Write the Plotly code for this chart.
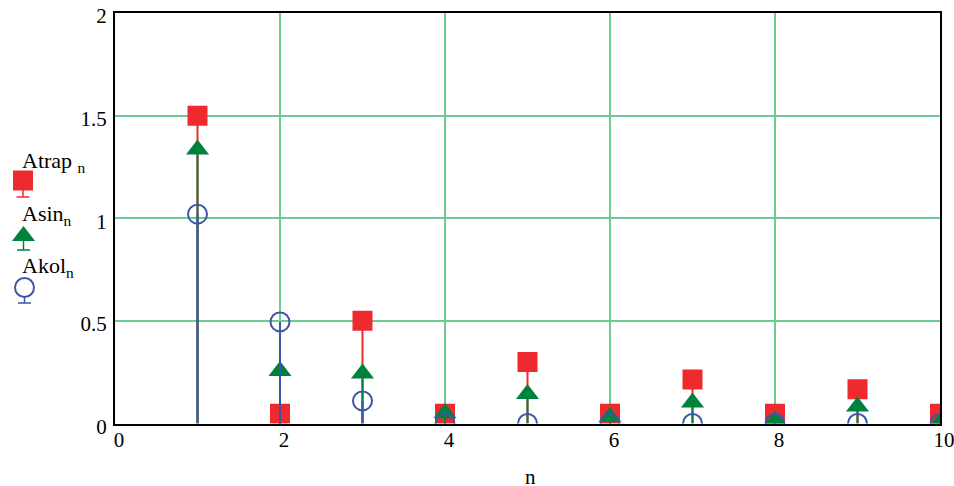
import plotly.graph_objects as go

# ---- data ----
n_vals = [1, 2, 3, 4, 5, 6, 7, 8, 9, 10]
atrap = [1.5, 0.048, 0.5, 0.048, 0.3, 0.048, 0.214, 0.048, 0.167, 0.048]
asin = [1.335, 0.256, 0.244, 0.05, 0.144, 0.032, 0.102, 0.014, 0.083, 0.005]
akol = [1.02, 0.495, 0.11, 0.0, 0.0, 0.0, 0.0, 0.0, 0.0, 0.0]
x_ticks = [0, 2, 4, 6, 8, 10]
y_ticks = [0, 0.5, 1, 1.5, 2]
legend_names = ["Atrap", "Asin", "Akol"]

RED = "#ee2a2f"
GREEN = "#00823f"
BLUE = "#3b56a8"
GRID = "#6ccb93"
FONT = "Liberation Serif"

W, H = 954, 486
L, R, T, B = 115, 940, 13, 423.5

fig = go.Figure()


def stems(xs, ys):
    sx, sy = [], []
    for x, y in zip(xs, ys):
        sx += [x, x, None]
        sy += [0, y, None]
    return sx, sy


series = [
    (atrap, RED, dict(symbol="square", size=20, color=RED, line=dict(width=0))),
    (asin, GREEN, dict(symbol="triangle-up", size=20, color=GREEN, line=dict(width=0))),
    (akol, BLUE, dict(symbol="circle-open", size=19, color=BLUE, line=dict(width=2, color=BLUE))),
]

for vals, col, mk in series:
    sx, sy = stems(n_vals, vals)
    fig.add_trace(go.Scatter(x=sx, y=sy, mode="lines", line=dict(color=col, width=2),
                             hoverinfo="skip", showlegend=False))
    fig.add_trace(go.Scatter(x=n_vals, y=vals, mode="markers", marker=mk,
                             showlegend=False, cliponaxis=True))

# ---- legend glyphs (pixel coordinate overlay axes) ----
leg_marker_y = [180.5, 236, 287.5]
leg_marker_x = [23, 23.5, 24.5]
leg_stem_end = [197, 250, 303]
leg_stem_start = [190, 241, 297]
leg_text_y = [162, 215, 267]
for i, (vals, col, mk) in enumerate(series):
    fig.add_trace(go.Scatter(x=[leg_marker_x[i]], y=[leg_marker_y[i]], mode="markers",
                             marker=mk, xaxis="x2", yaxis="y2", showlegend=False,
                             hoverinfo="skip", cliponaxis=False))
    fig.add_shape(type="line", xref="x2", yref="y2",
                  x0=leg_marker_x[i], x1=leg_marker_x[i],
                  y0=leg_stem_start[i], y1=leg_stem_end[i],
                  line=dict(color=col, width=1.5))
    fig.add_shape(type="line", xref="x2", yref="y2",
                  x0=leg_marker_x[i] - 6.5, x1=leg_marker_x[i] + 6.5,
                  y0=leg_stem_end[i], y1=leg_stem_end[i],
                  line=dict(color=col, width=1.5))
    sep = " " if i == 0 else ""
    fig.add_annotation(x=20, y=leg_text_y[i], xref="x2", yref="y2",
                       text=legend_names[i] + sep + "<sub>n</sub>", showarrow=False,
                       xanchor="left", yanchor="middle",
                       font=dict(family=FONT, size=22, color="black"))

fig.add_annotation(x=530, y=477, xref="x2", yref="y2", text="n", showarrow=False,
                   xanchor="center", yanchor="middle",
                   font=dict(family=FONT, size=21, color="black"))

fig.update_layout(
    width=W, height=H, autosize=False,
    margin=dict(l=0, r=0, t=0, b=0, pad=0),
    paper_bgcolor="white", plot_bgcolor="rgba(0,0,0,0)",
    font=dict(family=FONT, size=21, color="black"),
    showlegend=False,
    xaxis=dict(domain=[L / W, R / W], range=[0, 10], tickvals=x_ticks,
               ticktext=[str(v) for v in x_ticks],
               showgrid=True, gridcolor=GRID, gridwidth=1.5, zeroline=False,
               showline=True, linecolor="black", linewidth=2, mirror=True,
               ticks="", ticklabelstandoff=-4, ticklabelshift=4, automargin=False,
               ticklabeloverflow="allow", anchor="y"),
    yaxis=dict(domain=[1 - B / H, 1 - T / H], range=[0, 2], tickvals=y_ticks,
               ticktext=["0", "0.5", "1", "1.5", "2"],
               showgrid=True, gridcolor=GRID, gridwidth=1.5, zeroline=False,
               showline=True, linecolor="black", linewidth=2, mirror=True,
               ticks="", ticklabelstandoff=2, ticklabelshift=3, automargin=False,
               ticklabeloverflow="allow", anchor="x"),
    xaxis2=dict(domain=[0, 1], range=[0, W], visible=False, anchor="y2",
                fixedrange=True),
    yaxis2=dict(domain=[0, 1], range=[H, 0], visible=False, anchor="x2",
                fixedrange=True),
)

fig.write_html("out.html", config={"displayModeBar": False},
               post_script="document.body.style.margin='0';document.body.style.overflow='hidden';")
